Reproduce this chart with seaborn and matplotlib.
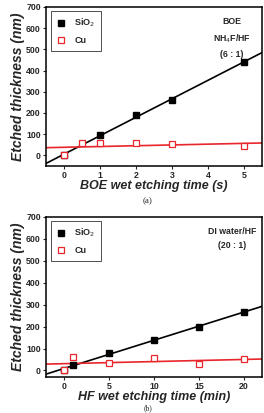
import numpy as np
import pandas as pd
import matplotlib
matplotlib.use("Agg")
import matplotlib.pyplot as plt
import seaborn as sns
from matplotlib.lines import Line2D

sns.set_style("white")
plt.rcParams['font.family'] = ['Liberation Sans', 'DejaVu Sans']

# Panel (a): BOE
boe_sio2_t = [0, 1, 2, 3, 5]
boe_sio2_v = [0, 95, 190, 262, 440]
boe_cu_t = [0, 0.5, 1, 2, 3, 5]
boe_cu_v = [0, 60, 57, 57, 53, 45]

# Panel (b): HF
hf_sio2_t = [0, 1, 5, 10, 15, 20]
hf_sio2_v = [0, 25, 80, 140, 200, 265]
hf_cu_t = [0, 1, 5, 10, 15, 20]
hf_cu_v = [0, 60, 35, 57, 30, 52]

W, H = 264, 413
fig = plt.figure(figsize=(W / 100, H / 100), dpi=100)

def px_axes(l, t, r, b):
    return fig.add_axes([l / W, 1 - b / H, (r - l) / W, (b - t) / H])

def panel(ax, st, sv, ct, cv, xlim, ylim, xticks, xlabel, note, note_y):
    ax.set_xlim(*xlim)
    ax.set_ylim(*ylim)
    sdf = pd.DataFrame({"t": st, "v": sv})
    cdf = pd.DataFrame({"t": ct, "v": cv})
    sns.regplot(data=sdf, x="t", y="v", ax=ax, scatter=False, ci=None, truncate=False,
                line_kws=dict(color="black", lw=1.2))
    sns.regplot(data=cdf, x="t", y="v", ax=ax, scatter=False, ci=None, truncate=False,
                line_kws=dict(color="#e8262b", lw=1.2))
    ax.plot(st, sv, ls="none", marker="s", ms=4.5, color="black", zorder=3)
    ax.plot(ct, cv, ls="none", marker="s", ms=4.5, mfc="white", mec="#e8262b", mew=0.9, zorder=4)
    ax.set_xlim(*xlim)
    ax.set_ylim(*ylim)
    ax.set_xticks(xticks)
    ax.set_yticks(range(0, 701, 100))
    for lab in ax.get_xticklabels() + ax.get_yticklabels():
        lab.set_fontweight("bold")
        lab.set_fontsize(6.3)
    ax.tick_params(direction="out", length=2.5, width=0.8, pad=1.2, left=True, bottom=True)
    for s in ax.spines.values():
        s.set_linewidth(1.1)
        s.set_color("black")
    ax.set_xlabel(xlabel, fontsize=9, fontweight="bold", style="italic", labelpad=0)
    ax.set_ylabel("Etched thickness (nm)", fontsize=10, fontweight="bold", style="italic", labelpad=1)
    handles = [Line2D([], [], ls="none", marker="s", ms=4.5, color="black"),
               Line2D([], [], ls="none", marker="s", ms=4.5, mfc="white", mec="#e8262b", mew=0.9)]
    leg = ax.legend(handles, ["SiO$_2$", "Cu"], loc="upper left", fontsize=6.5,
                    frameon=True, fancybox=False, edgecolor="black", handlelength=1.0,
                    handletextpad=1.0, borderpad=0.6, labelspacing=0.8,
                    bbox_to_anchor=(0.01, 0.99), borderaxespad=0.3)
    for t in leg.get_texts():
        t.set_fontweight("bold")
    leg.get_frame().set_linewidth(0.6)
    ax.text(0.86, note_y, note, transform=ax.transAxes, ha="center", va="top",
            fontsize=6.3, fontweight="bold", linespacing=1.75)

ax1 = px_axes(46, 7, 262, 166)
panel(ax1, boe_sio2_t, boe_sio2_v, boe_cu_t, boe_cu_v, (-0.5, 5.5), (-50, 700),
      [0, 1, 2, 3, 4, 5], "BOE wet etching time (s)", "BOE\nNH$_4$F/HF\n(6 : 1)", 0.94)

ax2 = px_axes(46, 217, 262, 377)
panel(ax2, hf_sio2_t, hf_sio2_v, hf_cu_t, hf_cu_v, (-2, 22), (-30, 700),
      [0, 5, 10, 15, 20], "HF wet etching time (min)", "DI water/HF\n(20 : 1)", 0.94)

fig.text(148 / W, 1 - 201 / H, "(a)", ha="center", va="center", fontsize=6.5, family="Liberation Serif")
fig.text(148 / W, 1 - 412.5 / H, "(b)", ha="center", va="bottom", fontsize=5.5, family="Liberation Serif")

fig.savefig("out.png", dpi=100)
